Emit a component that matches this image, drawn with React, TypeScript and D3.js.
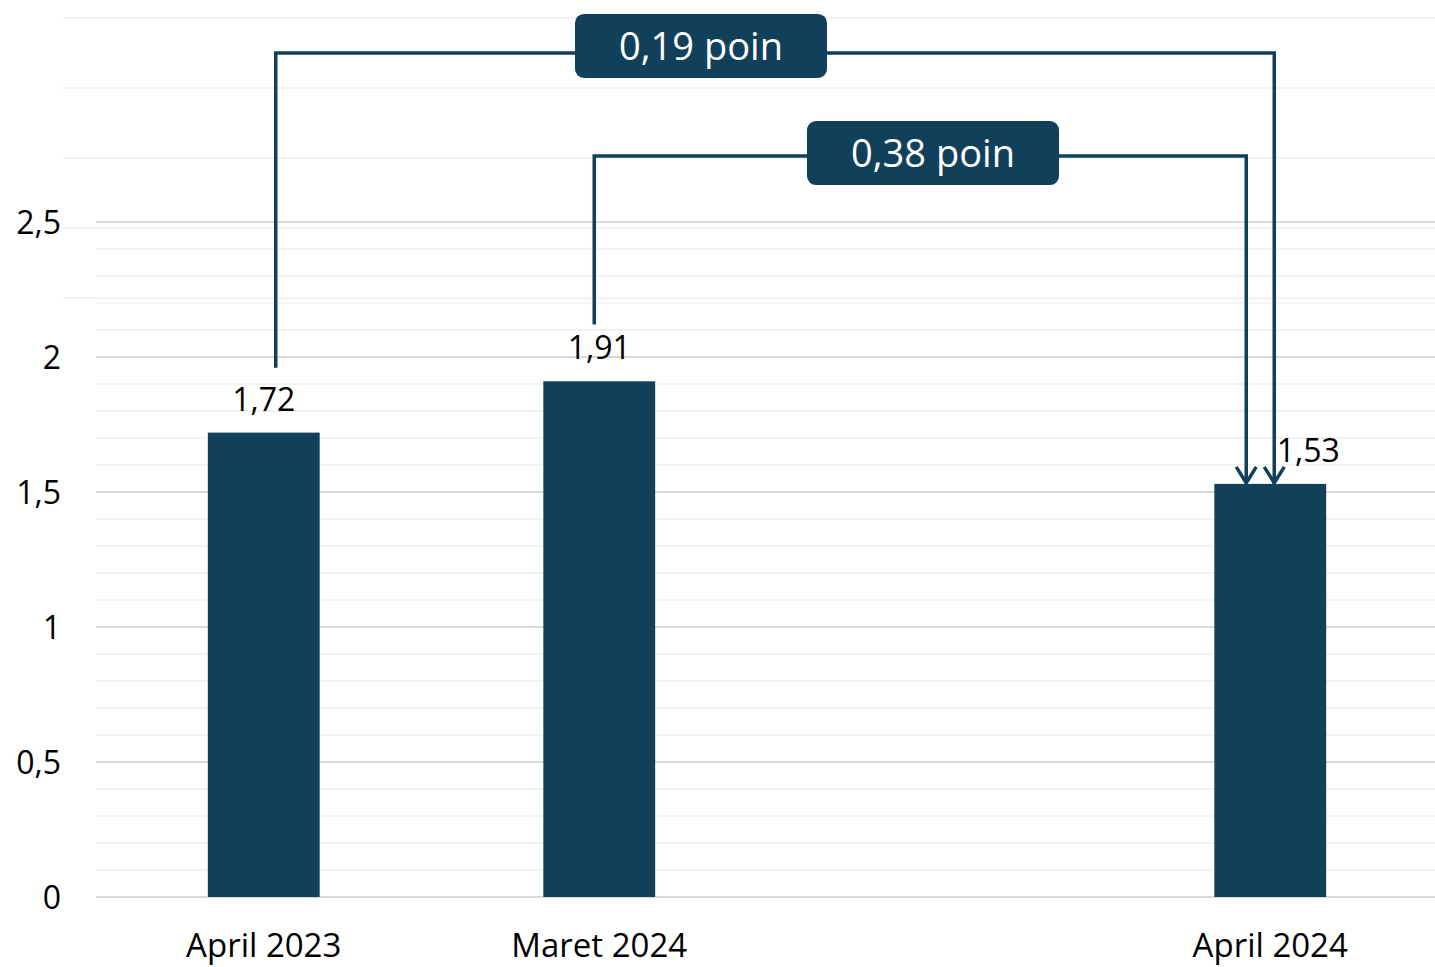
import React from "react";
import * as d3 from "d3";

const categories = ["April 2023", "Maret 2024", "", "April 2024"];
const values: (number | null)[] = [1.72, 1.91, null, 1.53];
const valueLabels = ["1,72", "1,91", "", "1,53"];
const yTicks = [0, 0.5, 1, 1.5, 2, 2.5];
const yTickLabels = ["0", "0,5", "1", "1,5", "2", "2,5"];

// comparison annotations: from category -> to category, label, bracket level (data units)
const comparisons = [
  { from: 0, to: 3, label: "0,19 poin", level: 3.126, startVal: 1.96, dxFrom: 12, dxTo: 4, boxCenter: 701, boxDy: -7 },
  { from: 1, to: 3, label: "0,38 poin", level: 2.744, startVal: 2.12, dxFrom: -5, dxTo: -24, boxCenter: 933, boxDy: -3 },
];

const W = 1435;
const H = 967;
const M = { left: 96, right: -3 };
const COLOR = "#11415A";
const FONT = "'Open Sans', sans-serif";

export default function App() {
  const x = d3.scaleBand<string>().domain(categories.map((c, i) => String(i))).range([M.left, W - M.right]).paddingInner(0).paddingOuter(0);
  const y = d3.scaleLinear().domain([0, 2.5]).range([897, 222]);
  const minor = d3.range(0, 2.51, 0.1).map((v) => Math.round(v * 10) / 10);
  const secondary = [18, 88, 158, 228, 298];
  const barW = x.bandwidth() / 3;
  const cx = (i: number) => (x(String(i)) as number) + x.bandwidth() / 2;

  return (
    <svg width={W} height={H} style={{ position: "absolute", left: 0, top: 0, display: "block" }} fontFamily={FONT}>
      <rect x={0} y={0} width={W} height={H} fill="#fff" />
      {secondary.map((sy) => (
        <line key={"s" + sy} x1={63} x2={W} y1={sy} y2={sy} stroke="#f0f0f0" strokeWidth={2} />
      ))}
      {minor.map((v) => (
        <line key={"m" + v} x1={M.left} x2={W} y1={y(v)} y2={y(v)} stroke="#f2f2f2" strokeWidth={2} />
      ))}
      {yTicks.map((v) => (
        <line key={"g" + v} x1={M.left} x2={W} y1={y(v)} y2={y(v)} stroke="#d9d9d9" strokeWidth={2} />
      ))}
      {yTicks.map((v, i) => (
        <text key={"t" + v} x={61} y={y(v)} dy="0.36em" textAnchor="end" fontSize={32} fill="#000">
          {yTickLabels[i]}
        </text>
      ))}
      {categories.map((c, i) => (
        <text key={"c" + i} x={cx(i)} y={957} textAnchor="middle" fontSize={33} fill="#000">
          {c}
        </text>
      ))}
      {values.map((v, i) =>
        v == null ? null : (
          <rect key={"b" + i} x={cx(i) - barW / 2} y={y(v)} width={barW} height={y(0) - y(v)} fill={COLOR} />
        )
      )}
      {values.map((v, i) =>
        v == null ? null : (
          <text key={"l" + i} x={cx(i) + (i === 3 ? 38 : 0)} y={y(v) - 22} textAnchor="middle" fontSize={32} fill="#000">
            {valueLabels[i]}
          </text>
        )
      )}
      {comparisons.map((c, k) => {
        const x1 = cx(c.from) + c.dxFrom;
        const x2 = cx(c.to) + c.dxTo;
        const yl = y(c.level);
        const y0 = y(c.startVal);
        const tipY = y(values[c.to] as number) + 1;
        const boxW = 252;
        const boxH = 64;
        return (
          <g key={"cmp" + k}>
            <path d={`M${x1},${y0}V${yl}H${x2}V${tipY}`} fill="none" stroke={COLOR} strokeWidth={3.5} />
            <path d={`M${x2 - 10},${tipY - 18}L${x2},${tipY - 2}L${x2 + 10},${tipY - 18}`} fill="none" stroke={COLOR} strokeWidth={3.5} />
            <rect x={c.boxCenter - boxW / 2} y={yl + c.boxDy - boxH / 2} width={boxW} height={boxH} rx={9} fill={COLOR} />
            <text x={c.boxCenter} y={yl + c.boxDy} dy="0.36em" textAnchor="middle" fontSize={38} fill="#fff">
              {c.label}
            </text>
          </g>
        );
      })}
    </svg>
  );
}
